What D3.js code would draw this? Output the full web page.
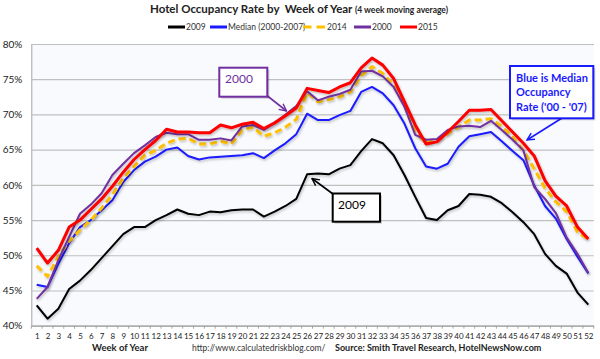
<!DOCTYPE html>
<html><head><meta charset="utf-8">
<script src="https://cdn.jsdelivr.net/npm/d3@7"></script>
<style>body{margin:0;background:#fff;} svg{display:block;font-family:Lato,'Open Sans',sans-serif;}</style>
</head><body><svg id="c" width="600" height="359"></svg>
<script>
const weeks = [1,2,3,4,5,6,7,8,9,10,11,12,13,14,15,16,17,18,19,20,21,22,23,24,25,26,27,28,29,30,31,32,33,34,35,36,37,38,39,40,41,42,43,44,45,46,47,48,49,50,51,52];
const yTicks = [40,45,50,55,60,65,70,75,80];
const seriesNames = ["2009","Median (2000-2007)","2014","2000","2015"];
const s2009 = [42.9,41.0,42.4,45.2,46.4,47.9,49.6,51.3,53.0,54.0,54.0,55.0,55.7,56.5,55.9,55.7,56.2,56.1,56.4,56.5,56.5,55.5,56.2,57.0,58.0,61.5,61.6,61.5,62.3,62.8,64.8,66.5,65.9,64.2,61.4,58.3,55.3,55.0,56.4,57.0,58.7,58.6,58.3,57.4,56.1,54.7,53.0,50.2,48.5,47.4,44.7,43.0];
const sMedian = [45.8,45.5,48.8,51.7,54.0,55.0,56.4,57.8,60.4,62.1,63.3,64.0,65.0,65.3,64.1,63.6,63.9,64.0,64.1,64.2,64.5,63.8,64.9,65.9,67.2,70.1,69.2,69.2,69.9,70.5,73.2,73.9,73.0,71.3,68.7,65.2,62.6,62.3,63.0,65.4,66.9,67.2,67.5,66.2,64.8,63.5,59.9,57.0,55.2,52.3,49.8,47.4];
const s2014 = [48.5,47.0,49.8,52.0,53.6,55.0,56.7,58.6,60.9,62.6,64.2,64.9,65.9,66.5,66.6,65.8,65.8,66.2,65.8,67.8,68.2,66.9,67.4,68.2,69.3,73.1,71.8,72.1,72.5,73.2,75.5,76.8,75.8,74.2,71.3,67.5,66.0,66.3,67.3,68.2,69.2,69.2,69.4,68.3,66.8,64.9,62.3,59.5,57.6,56.2,53.3,52.3];
const s2000 = [43.8,45.5,49.3,52.6,55.9,57.2,58.8,61.4,63.0,64.5,65.6,66.8,67.4,67.2,67.2,66.4,66.4,66.6,66.3,68.3,68.5,67.8,68.8,70.0,71.2,73.3,72.0,72.5,72.9,73.5,76.1,76.2,75.4,73.9,71.1,67.1,66.4,66.5,67.8,68.3,68.4,68.2,69.1,67.8,66.4,64.9,59.7,58.0,56.0,52.5,50.2,47.5];
const s2015 = [51.0,48.9,50.7,54.0,55.0,56.5,58.0,59.8,61.8,63.6,65.0,66.3,67.9,67.5,67.5,67.4,67.4,68.5,68.1,68.6,68.9,68.0,68.8,69.8,70.9,73.7,73.4,73.1,73.9,74.5,76.6,78.0,77.0,75.1,71.8,68.5,65.8,66.1,67.5,69.0,70.6,70.6,70.7,69.1,67.5,65.9,64.1,60.6,58.4,57.0,54.0,52.3];

const seriesData = [s2009, sMedian, s2014, s2000, s2015];
const colors = ["#000000","#1a1aff","#ffc000","#7030a0","#ff0000"];
const widths = [2,2,3,2,3];
const dashes = [null,null,"7,4",null,null];

const svg = d3.select("#c");
const L = 31.3, R = 593.7, T = 44, B = 325.7;
const x = d3.scalePoint().domain(weeks).range([L, R]).padding(0.5);
const y = d3.scaleLinear().domain([40, 80]).range([B, T]);

const defs = svg.append("defs");
const f = defs.append("filter").attr("id","sh").attr("x","-5%").attr("y","-5%").attr("width","110%").attr("height","120%");
f.append("feDropShadow").attr("dx",1).attr("dy",1.5).attr("stdDeviation",0.8).attr("flood-color","#000").attr("flood-opacity",0.25);
function marker(id, col){
  defs.append("marker").attr("id",id).attr("viewBox","0 0 10 10").attr("refX",9).attr("refY",5)
    .attr("markerWidth",9).attr("markerHeight",9).attr("markerUnits","userSpaceOnUse").attr("orient","auto")
    .append("path").attr("d","M1,1 L9,5 L1,9").attr("fill","none").attr("stroke",col).attr("stroke-width",1.6);
}
marker("mP","#7030a0"); marker("mK","#000"); marker("mB","#1a1aff");

svg.append("rect").attr("x",L).attr("y",T).attr("width",R-L).attr("height",B-T).attr("fill","#f9fafd");

const yAxis = d3.axisLeft(y).tickValues(yTicks).tickFormat(d => d + "%").tickSize(-(R - L)).tickPadding(9);
const gy = svg.append("g").attr("transform",`translate(${L},0)`).call(yAxis);
gy.select(".domain").attr("stroke","#a6a6a6");
gy.selectAll(".tick line").attr("stroke","#bfbfbf").attr("stroke-width",1.2);
gy.selectAll(".tick text").attr("font-size",10).attr("fill","#222").attr("font-family","Lato, sans-serif");

const xAxis = d3.axisBottom(x).tickSize(0).tickPadding(8);
const gx = svg.append("g").attr("transform",`translate(0,${B})`).call(xAxis);
gx.select(".domain").attr("stroke","#a6a6a6");
gx.selectAll(".tick text").attr("font-size",8).attr("fill","#222").attr("font-family","Lato, sans-serif");
const step = x.step();
svg.append("g").selectAll("line").data(d3.range(weeks.length + 1)).join("line")
  .attr("x1", i => L + i * step).attr("x2", i => L + i * step)
  .attr("y1", B).attr("y2", B + 3).attr("stroke","#a6a6a6");

const line = d3.line().x((d,i) => x(weeks[i])).y(d => y(d));
seriesData.forEach((s, k) => {
  svg.append("path").datum(s).attr("d", line).attr("fill","none")
    .attr("stroke", colors[k]).attr("stroke-width", widths[k])
    .attr("stroke-dasharray", dashes[k]).attr("stroke-linejoin","round")
    .attr("filter","url(#sh)");
});

const title = svg.append("text").attr("x",299).attr("y",13).attr("text-anchor","middle")
  .attr("font-weight","bold").attr("fill","#222").attr("font-size",11.5).style("white-space","pre");
title.append("tspan").text("Hotel Occupancy Rate by\u00a0 Week of Year ");
title.append("tspan").attr("font-size",8.5).text("(4 week moving average)");

const legX = [168, 210, 303, 354, 400];
const legG = svg.append("g");
seriesNames.forEach((n, k) => {
  legG.append("line").attr("x1",legX[k]).attr("x2",legX[k] + (k===2?23:17)).attr("y1",27).attr("y2",27)
    .attr("stroke",colors[k]).attr("stroke-width",3).attr("stroke-dasharray", k===2 ? "8.5,5" : null);
  legG.append("text").attr("x",legX[k] + (k===2?24:18)).attr("y",30).attr("font-size",8.5).attr("fill","#333").text(n);
});

svg.append("text").attr("x",120).attr("y",351).attr("text-anchor","middle").attr("font-size",9.5)
  .attr("font-weight","bold").attr("fill","#222").text("Week of Year");
svg.append("text").attr("x",192).attr("y",351).attr("font-size",8.5).attr("fill","#333")
  .text("http://www.calculatedriskblog.com/");
svg.append("text").attr("x",335).attr("y",351).attr("font-size",9).attr("font-weight","bold").attr("fill","#222")
  .text("Source: Smith Travel Research, HotelNewsNow.com");

function box(xx, yy, w, h, col, lines, tx, ty, fs, bold){
  svg.append("rect").attr("x",xx+2).attr("y",yy+2).attr("width",w).attr("height",h).attr("fill","#000").attr("opacity",0.18);
  svg.append("rect").attr("x",xx).attr("y",yy).attr("width",w).attr("height",h).attr("fill","#fff")
    .attr("stroke",col).attr("stroke-width",2);
  lines.forEach((t,i) => svg.append("text").attr("x",tx).attr("y",ty + i*14.5).attr("font-size",fs)
    .attr("font-weight",bold?"bold":"normal").attr("fill",col).text(t));
}
function arrow(x1,y1,x2,y2,col,m){
  svg.append("line").attr("x1",x1).attr("y1",y1).attr("x2",x2).attr("y2",y2)
    .attr("stroke",col).attr("stroke-width",1.6).attr("marker-end",`url(#${m})`);
}
arrow(267.5,96,286.5,111,"#7030a0","mP");
box(219.3,67.7,48,29,"#7030a0",["2000"],225,82.5,12,false);
arrow(333,194,312,178.5,"#000","mK");
box(332.7,193.5,47.3,28.2,"#000",["2009"],338,208.5,12,false);
arrow(561.7,118.3,527,140,"#1a1aff","mB");
box(510,66,83.3,52.3,"#1a1aff",["Blue is Median","Occupancy","Rate ('00 - '07)"],516,81.5,11,true);
</script></body></html>
